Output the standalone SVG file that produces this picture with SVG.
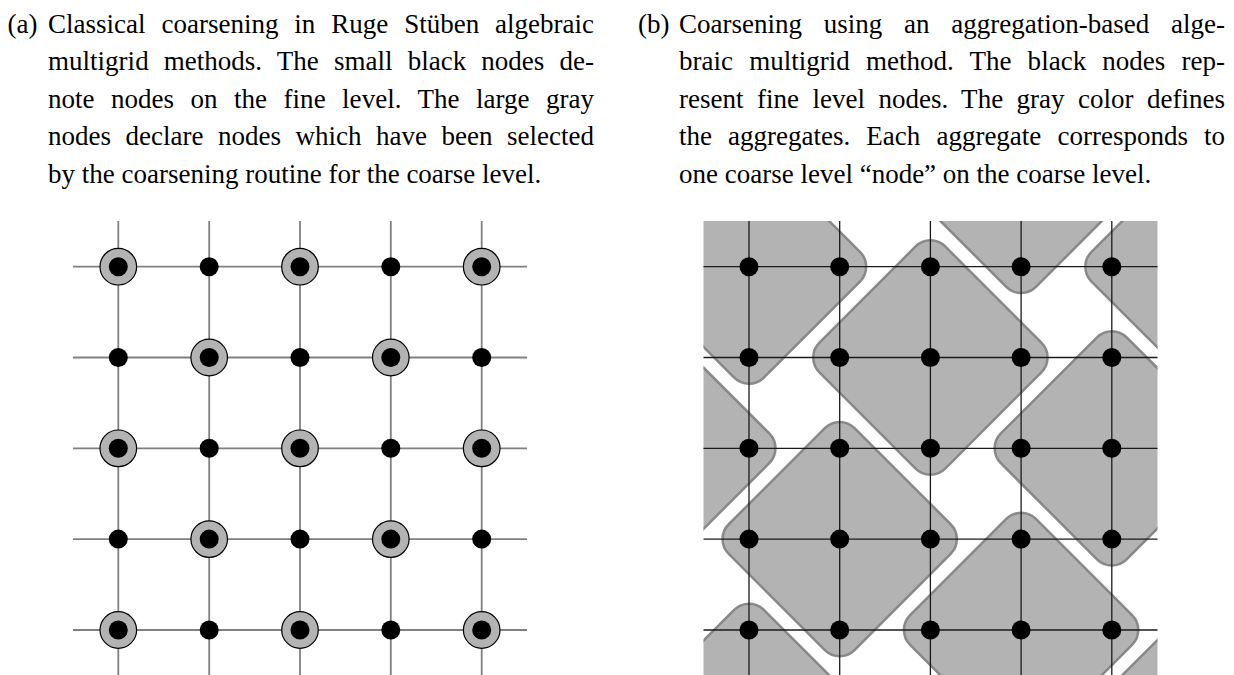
<svg xmlns="http://www.w3.org/2000/svg" width="1234" height="675" viewBox="0 0 1234 675">
<style>
  .cap { font-family: 'Liberation Serif', 'Times New Roman', serif; font-size: 27px; fill: #000; }
  .gl { stroke: #808080; stroke-width: 1.8; fill: none; }
  .gr { stroke: #1a1a1a; stroke-width: 1.3; fill: none; }
  .dot { fill: #000; }
  .coarse { fill: #b3b3b3; stroke: #000; stroke-width: 1.2; }
  .agg { fill: #b3b3b3; stroke: #808080; stroke-opacity: 0.9; stroke-width: 2.5; }
</style>
<defs>
  <clipPath id="clipR"><rect x="703.5" y="221" width="454" height="454"/></clipPath>
  <rect id="aggShape" x="-89" y="-89" width="178" height="178" rx="21" ry="21" transform="rotate(45)"/>
</defs>
<rect width="1234" height="675" fill="#fff"/>

<g id="caption-a">
  <text class="cap" x="7.5" y="32.5">(a)</text>
  <text class="cap" x="48" y="32.5" word-spacing="9.16" textLength="546" lengthAdjust="spacing">Classical coarsening in Ruge Stüben algebraic</text>
  <text class="cap" x="48" y="70" word-spacing="8.38" textLength="546" lengthAdjust="spacing">multigrid methods. The small black nodes de-</text>
  <text class="cap" x="48" y="107.5" word-spacing="9.67" textLength="546" lengthAdjust="spacing">note nodes on the fine level. The large gray</text>
  <text class="cap" x="48" y="145" word-spacing="7.78" textLength="546" lengthAdjust="spacing">nodes declare nodes which have been selected</text>
  <text class="cap" x="48" y="182.5">by the coarsening routine for the coarse level.</text>
</g>
<g id="caption-b">
  <text class="cap" x="638" y="32.5">(b)</text>
  <text class="cap" x="679" y="32.5" word-spacing="15.0" textLength="546" lengthAdjust="spacing">Coarsening using an aggregation-based alge-</text>
  <text class="cap" x="679" y="70" word-spacing="9.39" textLength="546" lengthAdjust="spacing">braic multigrid method. The black nodes rep-</text>
  <text class="cap" x="679" y="107.5" word-spacing="6.66" textLength="546" lengthAdjust="spacing">resent fine level nodes. The gray color defines</text>
  <text class="cap" x="679" y="145" word-spacing="9.34" textLength="546" lengthAdjust="spacing">the aggregates. Each aggregate corresponds to</text>
  <text class="cap" x="679" y="182.5">one coarse level “node” on the coarse level.</text>
</g>

<!-- Left panel: classical coarsening -->
<g id="left-grid">
  <g id="left-edges" class="gl">
    <line x1="73" y1="266.7" x2="527" y2="266.7"/>
    <line x1="73" y1="357.5" x2="527" y2="357.5"/>
    <line x1="73" y1="448.3" x2="527" y2="448.3"/>
    <line x1="73" y1="539.1" x2="527" y2="539.1"/>
    <line x1="73" y1="630" x2="527" y2="630"/>
    <line x1="118.3" y1="221" x2="118.3" y2="675"/>
    <line x1="209.2" y1="221" x2="209.2" y2="675"/>
    <line x1="300" y1="221" x2="300" y2="675"/>
    <line x1="390.8" y1="221" x2="390.8" y2="675"/>
    <line x1="481.7" y1="221" x2="481.7" y2="675"/>
  </g>
  <g id="left-coarse-nodes" class="coarse">
    <circle cx="118.3" cy="266.7" r="18.3"/>
    <circle cx="300" cy="266.7" r="18.3"/>
    <circle cx="481.7" cy="266.7" r="18.3"/>
    <circle cx="209.2" cy="357.5" r="18.3"/>
    <circle cx="390.8" cy="357.5" r="18.3"/>
    <circle cx="118.3" cy="448.3" r="18.3"/>
    <circle cx="300" cy="448.3" r="18.3"/>
    <circle cx="481.7" cy="448.3" r="18.3"/>
    <circle cx="209.2" cy="539.1" r="18.3"/>
    <circle cx="390.8" cy="539.1" r="18.3"/>
    <circle cx="118.3" cy="630" r="18.3"/>
    <circle cx="300" cy="630" r="18.3"/>
    <circle cx="481.7" cy="630" r="18.3"/>
  </g>
  <g id="left-fine-nodes" class="dot">
    <circle cx="118.3" cy="266.7" r="9.5"/><circle cx="209.2" cy="266.7" r="9.5"/><circle cx="300" cy="266.7" r="9.5"/><circle cx="390.8" cy="266.7" r="9.5"/><circle cx="481.7" cy="266.7" r="9.5"/>
    <circle cx="118.3" cy="357.5" r="9.5"/><circle cx="209.2" cy="357.5" r="9.5"/><circle cx="300" cy="357.5" r="9.5"/><circle cx="390.8" cy="357.5" r="9.5"/><circle cx="481.7" cy="357.5" r="9.5"/>
    <circle cx="118.3" cy="448.3" r="9.5"/><circle cx="209.2" cy="448.3" r="9.5"/><circle cx="300" cy="448.3" r="9.5"/><circle cx="390.8" cy="448.3" r="9.5"/><circle cx="481.7" cy="448.3" r="9.5"/>
    <circle cx="118.3" cy="539.1" r="9.5"/><circle cx="209.2" cy="539.1" r="9.5"/><circle cx="300" cy="539.1" r="9.5"/><circle cx="390.8" cy="539.1" r="9.5"/><circle cx="481.7" cy="539.1" r="9.5"/>
    <circle cx="118.3" cy="630" r="9.5"/><circle cx="209.2" cy="630" r="9.5"/><circle cx="300" cy="630" r="9.5"/><circle cx="390.8" cy="630" r="9.5"/><circle cx="481.7" cy="630" r="9.5"/>
  </g>
</g>

<!-- Right panel: aggregation -->
<g id="right-grid" clip-path="url(#clipR)">
  <g id="aggregates" class="agg">
    <use href="#aggShape" transform="translate(749 266.7)"/>
    <use href="#aggShape" transform="translate(930.4 357.5)"/>
    <use href="#aggShape" transform="translate(1111.8 448.3)"/>
    <use href="#aggShape" transform="translate(658.3 448.3)"/>
    <use href="#aggShape" transform="translate(839.7 539.1)"/>
    <use href="#aggShape" transform="translate(1021.1 630)"/>
    <use href="#aggShape" transform="translate(749 720.8)"/>
    <use href="#aggShape" transform="translate(1202.5 720.8)"/>
    <use href="#aggShape" transform="translate(1021.1 175.9)"/>
    <use href="#aggShape" transform="translate(1202.5 266.7)"/>
  </g>
  <g id="right-edges" class="gr">
    <line x1="703" y1="266.7" x2="1158" y2="266.7"/>
    <line x1="703" y1="357.5" x2="1158" y2="357.5"/>
    <line x1="703" y1="448.3" x2="1158" y2="448.3"/>
    <line x1="703" y1="539.1" x2="1158" y2="539.1"/>
    <line x1="703" y1="630" x2="1158" y2="630"/>
    <line x1="749" y1="221" x2="749" y2="675"/>
    <line x1="839.7" y1="221" x2="839.7" y2="675"/>
    <line x1="930.4" y1="221" x2="930.4" y2="675"/>
    <line x1="1021.1" y1="221" x2="1021.1" y2="675"/>
    <line x1="1111.8" y1="221" x2="1111.8" y2="675"/>
  </g>
  <g id="right-nodes" class="dot">
    <circle cx="749" cy="266.7" r="9.5"/><circle cx="839.7" cy="266.7" r="9.5"/><circle cx="930.4" cy="266.7" r="9.5"/><circle cx="1021.1" cy="266.7" r="9.5"/><circle cx="1111.8" cy="266.7" r="9.5"/>
    <circle cx="749" cy="357.5" r="9.5"/><circle cx="839.7" cy="357.5" r="9.5"/><circle cx="930.4" cy="357.5" r="9.5"/><circle cx="1021.1" cy="357.5" r="9.5"/><circle cx="1111.8" cy="357.5" r="9.5"/>
    <circle cx="749" cy="448.3" r="9.5"/><circle cx="839.7" cy="448.3" r="9.5"/><circle cx="930.4" cy="448.3" r="9.5"/><circle cx="1021.1" cy="448.3" r="9.5"/><circle cx="1111.8" cy="448.3" r="9.5"/>
    <circle cx="749" cy="539.1" r="9.5"/><circle cx="839.7" cy="539.1" r="9.5"/><circle cx="930.4" cy="539.1" r="9.5"/><circle cx="1021.1" cy="539.1" r="9.5"/><circle cx="1111.8" cy="539.1" r="9.5"/>
    <circle cx="749" cy="630" r="9.5"/><circle cx="839.7" cy="630" r="9.5"/><circle cx="930.4" cy="630" r="9.5"/><circle cx="1021.1" cy="630" r="9.5"/><circle cx="1111.8" cy="630" r="9.5"/>
  </g>
</g>
</svg>
